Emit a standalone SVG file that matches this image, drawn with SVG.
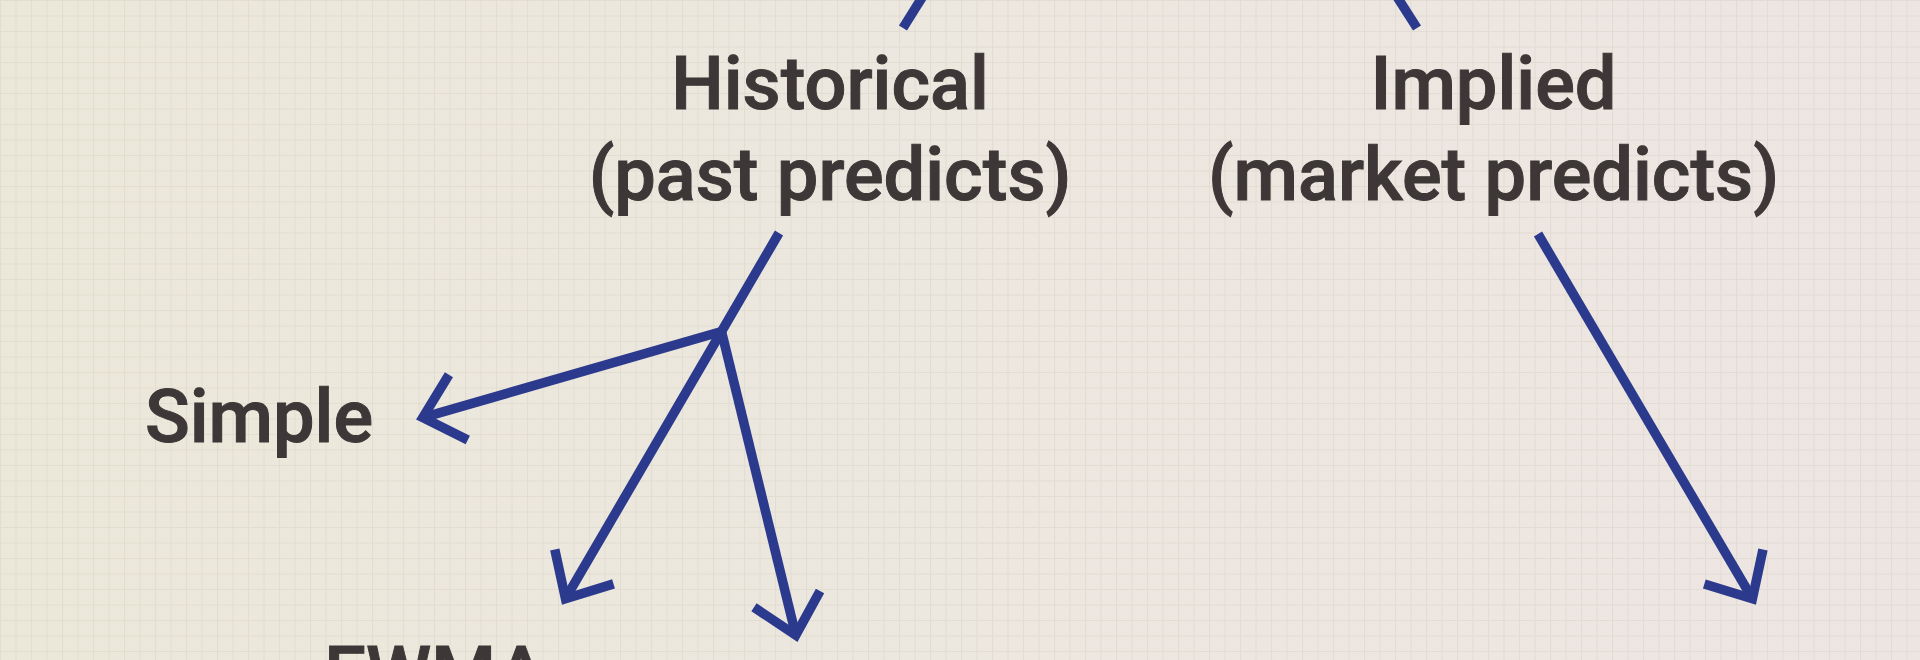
<svg xmlns="http://www.w3.org/2000/svg" width="1920" height="660" viewBox="0 0 1920 660">
  <defs>
    <linearGradient id="bg" x1="0" y1="0" x2="1" y2="0">
      <stop offset="0" stop-color="#ebe8da"/>
      <stop offset="0.5" stop-color="#ece7df"/>
      <stop offset="1" stop-color="#ede5e2"/>
    </linearGradient>
    <pattern id="grid" width="15.5" height="15.5" patternUnits="userSpaceOnUse">
      <path d="M0,0.5 H15.5 M0.5,0 V15.5" fill="none" stroke="#c9c0b0" stroke-width="1" opacity="0.28"/>
    </pattern>
    <marker id="chev" markerUnits="userSpaceOnUse" markerWidth="60" markerHeight="90" refX="50" refY="45" orient="auto" overflow="visible">
      <path d="M13,11 L50,45 L13,79" fill="none" stroke="#2c3a8e" stroke-width="9.5" stroke-linejoin="miter" stroke-miterlimit="10"/>
    </marker>
    <style>
      .lbl { font-family: Roboto, "Liberation Sans", sans-serif; font-weight: 500; font-size: 74px; fill: #3d3837; stroke: #3d3837; stroke-width: 1; text-anchor: middle; }
      .con { fill: none; stroke: #2c3a8e; stroke-width: 9.5; stroke-linecap: butt; stroke-linejoin: round; }
      .arr { marker-end: url(#chev); }
    </style>
  </defs>

  <rect x="0" y="0" width="1920" height="660" fill="url(#bg)"/>
  <rect x="0" y="0" width="1920" height="660" fill="url(#grid)"/>

  <g id="connectors">
    <path class="con" d="M923,-4 L903,28"/>
    <path class="con" d="M1396.5,-4 L1417,28"/>
    <path class="con arr" d="M779,233 L721.5,331.5 L565.5,598.7"/>
    <path class="con arr" d="M721.5,331.5 L422.8,417.6"/>
    <path class="con arr" d="M721.5,331.5 L795.8,635.1"/>
    <path class="con arr" d="M1538,234 L1752.4,598.7"/>
  </g>

  <g id="node-historical">
    <text class="lbl" x="830" y="109">Historical</text>
    <text class="lbl" x="830" y="200">(past predicts)</text>
  </g>
  <g id="node-implied">
    <text class="lbl" x="1493.5" y="109">Implied</text>
    <text class="lbl" x="1493.5" y="200">(market predicts)</text>
  </g>
  <g id="node-simple">
    <text class="lbl" x="259" y="442">Simple</text>
  </g>
  <g id="node-ewma">
    <text class="lbl" x="435" y="699">EWMA</text>
  </g>
</svg>
